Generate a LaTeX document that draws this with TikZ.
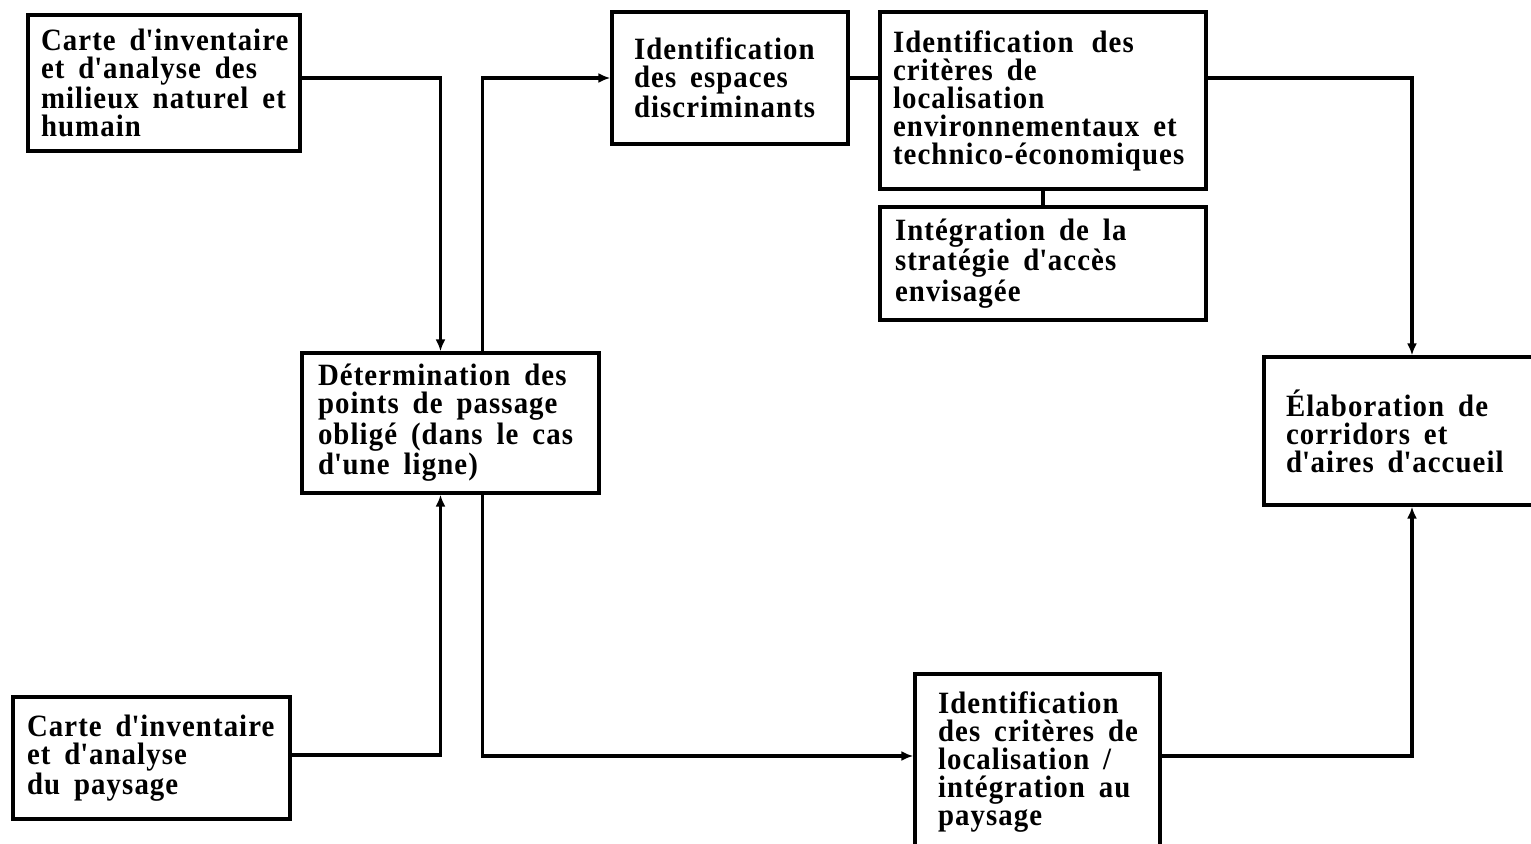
\documentclass[tikz,border=0pt]{standalone}
\usepackage{fontspec}
\setmainfont{Liberation Serif}[LetterSpace=3.5,FakeStretch=0.93]
\usetikzlibrary{arrows.meta}
\newcommand{\sqt}{\textquotesingle}
\newcommand{\boxfont}{\fontsize{15.5}{14}\selectfont\bfseries}
\newcommand{\widespaces}{\spaceskip=0.45em\relax\xspaceskip=0.45em\relax}
\tikzset{
  box/.style={draw, line width=1.65pt, inner ysep=0pt, align=left,
    font=\boxfont, anchor=center, execute at begin node=\widespaces},
  link/.style={line width=1.6pt},
  arr/.style={link, -{Latex[length=6pt,width=5pt]}}
}
\begin{document}
\begin{tikzpicture}[x=0.5pt,y=-0.5pt]
\useasboundingbox (0,0) rectangle (1531,843);
\clip (0,0) rectangle (1531,843);
\fill[white] (0,0) rectangle (1531,843);
% boxes
\node[box, inner xsep=6.5pt, minimum width=136pt, minimum height=68pt, text width=123pt] (A) at (164,83)
  {Carte~d\sqt inventaire\\ et~d\sqt analyse~des\\ milieux~naturel~et\\ humain};
\node[box, inner xsep=7pt, minimum width=138.5pt, minimum height=61pt, text width=124.5pt] (B) at (151.5,758)
  {Carte~d\sqt inventaire\\ et~d\sqt analyse\\ du~paysage};
\node[box, inner xsep=8pt, minimum width=148.5pt, minimum height=70pt, text width=132.5pt] (C) at (450.5,423)
  {Détermination~des\\ points~de~passage\\ obligé~(dans~le~cas\\ d\sqt une~ligne)};
\node[box, inner xsep=11pt, minimum width=118pt, minimum height=66pt, text width=96pt] (D) at (730,78)
  {Identification\\ des~espaces\\ discriminants};
\node[box, inner xsep=6.5pt, minimum width=163pt, minimum height=88.5pt, text width=150pt] (E) at (1043,100.5)
  {Identification~\hspace{2pt}des\\ critères~de\\ localisation\\ environnementaux~et\\ technico-économiques};
\node[box, inner xsep=7.5pt, minimum width=163pt, minimum height=56.5pt, text width=148pt] (F) at (1043,263.5)
  {Intégration~de~la\\ stratégie~d\sqt accès\\ envisagée};
\node[box, inner xsep=11pt, minimum width=148pt, minimum height=74pt, text width=126pt] (G) at (1412,431)
  {Élaboration~de\\ corridors~et\\ d\sqt aires~d\sqt accueil};
\node[box, inner xsep=11.5pt, minimum width=122.5pt, minimum height=88pt, text width=99.5pt] (H) at (1037.5,762)
  {Identification\\ des~critères~de\\ localisation~/\\ intégration~au\\ paysage};
% connectors
\draw[arr] ([yshift=2.5pt]A.east) -| ([xshift=-5pt]C.north);
\draw[arr] ([yshift=1.5pt]B.east) -| ([xshift=-5pt]C.south);
\draw[arr] ([xshift=16pt]C.north) |- (D.west);
\draw[arr] ([xshift=16pt]C.south) |- ([yshift=3pt]H.west);
\draw[link] (D.east) -- (D.east -| E.west);
\draw[link] (E.south) -- (F.north);
\draw[arr] ([yshift=11.25pt]E.east) -| (G.north);
\draw[arr] ([yshift=3pt]H.east) -| (G.south);
\end{tikzpicture}
\end{document}
